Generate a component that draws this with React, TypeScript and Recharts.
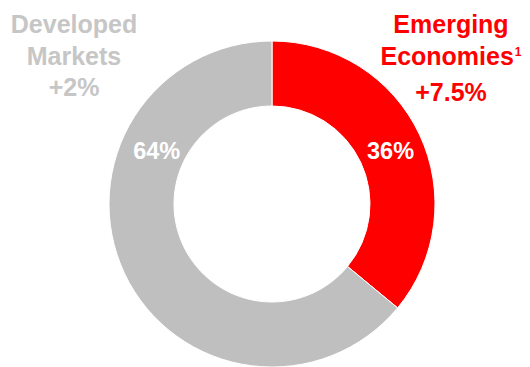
import { PieChart, Pie, Cell } from 'recharts';

const segments = ['Emerging Economies', 'Developed Markets'];
const shares = [36, 64];
const shareLabels = ['36%', '64%'];
const growth = ['+7.5%', '+2%'];

const colors = ['#ff0000', '#bfbfbf'];
const textColors = ['#ff0000', '#c6c6c6'];
// where each share label sits: angle (deg, ccw from 3 o'clock) and radius
const labelAngles = [24.2, 155.2];
const labelRadii = [130, 127];

const data = segments.map((name, i) => ({ name, value: shares[i] }));

const RAD = Math.PI / 180;

function ShareLabel({ cx, cy, index }: any) {
  const r = labelRadii[index];
  const a = labelAngles[index] * RAD;
  const x = cx + r * Math.cos(a);
  const y = cy - r * Math.sin(a);
  return (
    <text
      x={x}
      y={y}
      fill="#fff"
      textAnchor="middle"
      dominantBaseline="central"
      fontFamily="'Liberation Sans', Arial, sans-serif"
      fontWeight="bold"
      fontSize={23.5}
    >
      {shareLabels[index]}
    </text>
  );
}

const titleStyle = {
  position: 'absolute' as const,
  fontFamily: "'Liberation Sans', Arial, sans-serif",
  fontWeight: 'bold',
  fontSize: 25,
  lineHeight: '31.5px',
  textAlign: 'center' as const,
  whiteSpace: 'nowrap' as const,
};

export default function App() {
  return (
    <div style={{ position: 'absolute', left: 0, top: 0, width: 530, height: 367, background: '#fff', overflow: 'hidden' }}>
      <PieChart width={530} height={367} margin={{ top: 0, right: 0, bottom: 0, left: 0 }}>
        <Pie
          data={data}
          dataKey="value"
          cx={272}
          cy={204}
          innerRadius={98}
          outerRadius={163}
          startAngle={90}
          endAngle={-270}
          stroke="#fff"
          strokeWidth={1}
          label={ShareLabel}
          labelLine={false}
          isAnimationActive={false}
        >
          {data.map((d, i) => (
            <Cell key={d.name} fill={colors[i]} />
          ))}
        </Pie>
      </PieChart>
      <div style={{ ...titleStyle, color: textColors[1], left: -1, width: 150, top: 9 }}>
        Developed<br />Markets<br />{growth[1]}
      </div>
      <div style={{ ...titleStyle, color: textColors[0], left: 376, width: 150, top: 9 }}>
        Emerging<br />
        <span style={{ position: 'relative', left: 0 }}>
          Economies
          <span style={{ fontSize: 12, position: 'relative', top: -9, marginLeft: 1 }}>1</span>
        </span>
        <br />{growth[0]}
      </div>
    </div>
  );
}
